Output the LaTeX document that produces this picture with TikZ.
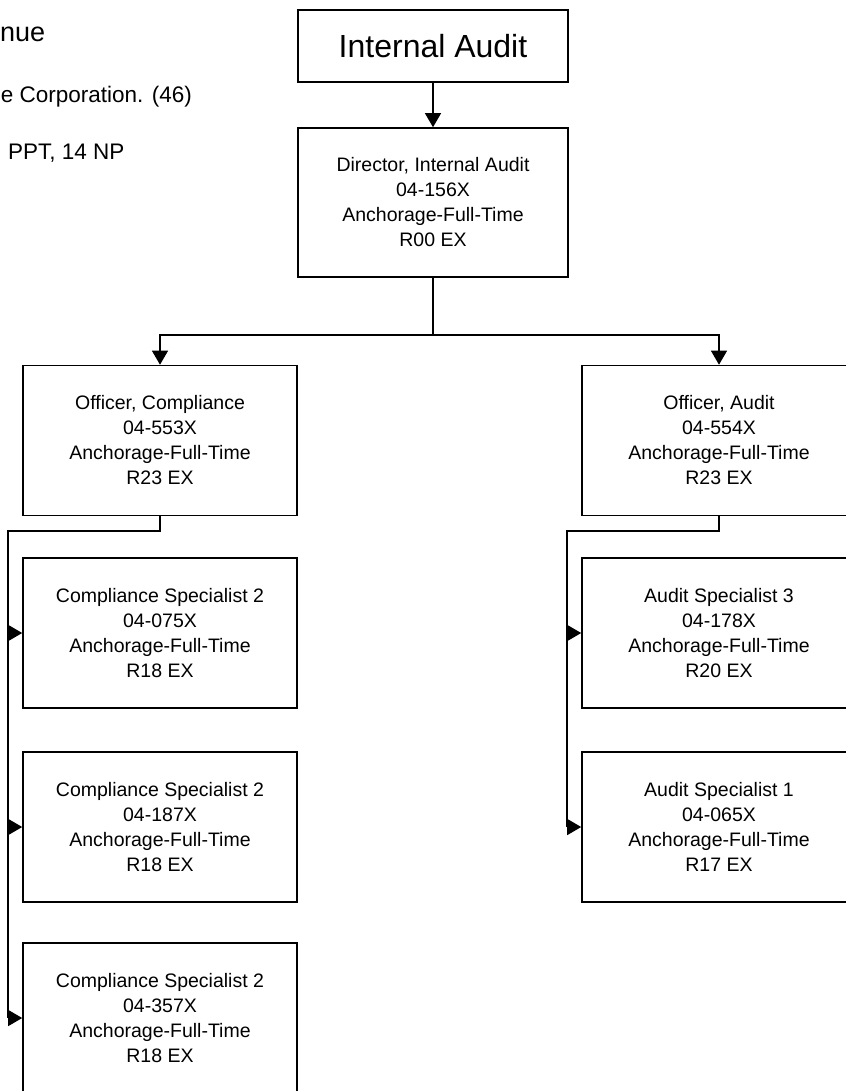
\documentclass[tikz,border=0pt]{standalone}
\usepackage{fontspec}
\setmainfont{Liberation Sans}
\usetikzlibrary{arrows.meta}
\tikzset{
  posbox/.style={draw=black, line width=1.6pt, minimum width=274pt, minimum height=150pt, inner sep=0pt, align=center, font=\fontsize{19.5}{25}\selectfont},
  conn/.style={line width=1.1pt},
  arr/.style={conn, -{Triangle[length=14pt,width=16pt]}},
  headtext/.style={inner sep=0pt, font=\fontsize{22.5}{27}\selectfont}
}
\begin{document}
\begin{tikzpicture}[x=1pt,y=-1pt]
\useasboundingbox (0,0) rectangle (845,1091);
% header texts (cut off at left edge)
\node[headtext, anchor=base west, font=\fontsize{27}{32}\selectfont] (t1) at (0,42) {nue};
\node[headtext, anchor=base east] (t2) at (192,103) {e Corporation. (46)};
\node[headtext, anchor=base west] (t3) at (8,160) {PPT, 14 NP};
% boxes
\node[posbox, minimum width=270pt, minimum height=72pt, font=\fontsize{32}{36}\selectfont] (ia) at (433,46) {Internal Audit};
\node[posbox, minimum width=270pt, minimum height=149pt] (dir) at (433,202.5) {Director, Internal Audit\\04-156X\\Anchorage-Full-Time\\R00 EX};
\node[posbox] (oc) at (160,440.5) {Officer, Compliance\\04-553X\\Anchorage-Full-Time\\R23 EX};
\node[posbox] (oa) at (719,440.5) {Officer, Audit\\04-554X\\Anchorage-Full-Time\\R23 EX};
\node[posbox] (cs1) at (160,633) {Compliance Specialist 2\\04-075X\\Anchorage-Full-Time\\R18 EX};
\node[posbox] (cs2) at (160,827) {Compliance Specialist 2\\04-187X\\Anchorage-Full-Time\\R18 EX};
\node[posbox] (cs3) at (160,1018) {Compliance Specialist 2\\04-357X\\Anchorage-Full-Time\\R18 EX};
\node[posbox] (as3) at (719,633) {Audit Specialist 3\\04-178X\\Anchorage-Full-Time\\R20 EX};
\node[posbox] (as1) at (719,827) {Audit Specialist 1\\04-065X\\Anchorage-Full-Time\\R17 EX};
% connectors
\draw[arr] (ia.south) -- (dir.north);
\coordinate (j1) at (433,335);
\draw[conn] (dir.south) -- (j1);
\draw[arr] (j1) -| (oc.north);
\draw[arr] (j1) -| (oa.north);
\coordinate (lb) at (8,531);
\draw[conn] (oc.south) |- (lb) -- (lb |- cs3.west);
\draw[arr] (lb |- cs1.west) -- (cs1.west);
\draw[arr] (lb |- cs2.west) -- (cs2.west);
\draw[arr] (lb |- cs3.west) -- (cs3.west);
\coordinate (rb) at (567,531);
\draw[conn] (oa.south) |- (rb) -- (rb |- as1.west);
\draw[arr] (rb |- as3.west) -- (as3.west);
\draw[arr] (rb |- as1.west) -- (as1.west);
\end{tikzpicture}
\end{document}
